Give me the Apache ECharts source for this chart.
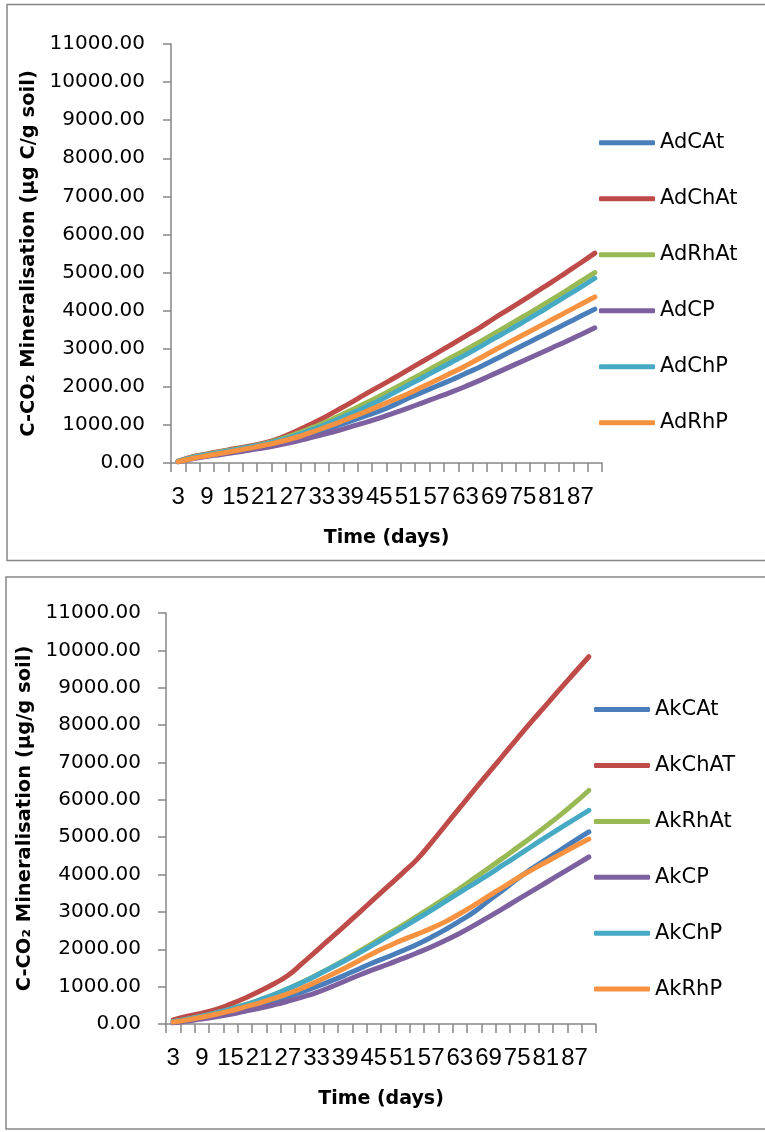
<!DOCTYPE html>
<html>
<head>
<meta charset="utf-8">
<script src="https://cdn.jsdelivr.net/npm/echarts@6/dist/echarts.min.js"></script>
<style>
html,body{margin:0;padding:0;background:#fff;}
#chart{width:765px;height:1132px;}
</style>
</head>
<body>
<div id="chart"></div>
<script>
// Categories (days)
const days = [3,6,9,12,15,18,21,24,27,30,33,36,39,42,45,48,51,54,57,60,63,66,69,72,75,78,81,84,87,90];

// Top panel series
const topNames = ['AdCAt','AdChAt','AdRhAt','AdCP','AdChP','AdRhP'];
const adCAt  = [40,130,200,260,320,380,450,530,620,730,850,970,1100,1230,1360,1520,1700,1860,2020,2180,2350,2520,2710,2900,3090,3280,3470,3660,3850,4040];
const adChAt = [45,165,240,310,380,445,530,640,800,980,1160,1370,1580,1800,2010,2225,2445,2665,2885,3105,3330,3555,3800,4035,4270,4510,4750,5000,5250,5510];
const adRhAt = [40,150,225,295,360,430,510,610,740,880,1030,1200,1380,1560,1750,1950,2150,2350,2560,2770,2970,3180,3400,3620,3840,4060,4290,4520,4760,5000];
const adCP   = [30,110,170,225,280,340,400,470,550,640,740,840,950,1060,1180,1310,1440,1580,1720,1860,2010,2170,2340,2510,2680,2850,3020,3190,3370,3550];
const adChP  = [40,140,215,285,350,420,495,590,700,830,970,1130,1290,1460,1640,1840,2040,2240,2440,2640,2840,3050,3270,3480,3700,3920,4150,4380,4610,4850];
const adRhP  = [35,120,190,255,320,390,465,550,650,770,900,1040,1190,1340,1500,1660,1820,2000,2180,2360,2550,2750,2960,3160,3360,3560,3760,3960,4160,4360];

// Bottom panel series
const bottomNames = ['AkCAt','AkChAT','AkRhAt','AkCP','AkChP','AkRhP'];
const akCAt  = [40,100,160,230,310,400,500,610,730,860,1000,1150,1310,1480,1650,1800,1960,2130,2320,2530,2760,3000,3300,3580,3880,4150,4400,4650,4900,5140];
const akChAT = [110,210,290,390,530,690,870,1070,1300,1620,1960,2300,2640,2990,3340,3690,4040,4400,4850,5320,5790,6260,6720,7180,7640,8090,8530,8970,9400,9830];
const akRhAt = [60,130,210,300,400,510,640,780,940,1120,1310,1510,1720,1950,2180,2410,2640,2880,3120,3370,3630,3900,4170,4440,4720,5000,5290,5590,5910,6250];
const akCP   = [30,80,130,190,260,340,420,510,610,720,840,990,1150,1310,1460,1600,1750,1900,2060,2240,2430,2640,2860,3090,3320,3550,3780,4010,4240,4470];
const akChP  = [60,130,210,300,400,510,640,780,940,1110,1300,1500,1700,1910,2130,2350,2580,2810,3040,3280,3520,3760,4000,4250,4500,4750,5000,5240,5480,5720];
const akRhP  = [50,110,180,260,350,460,560,680,810,960,1130,1310,1500,1700,1900,2080,2250,2400,2560,2740,2950,3180,3420,3660,3900,4120,4330,4540,4750,4950];

const colors = ['#4A7EBB','#BE4B48','#98B954','#7D60A0','#46AAC5','#F69240'];
const topData = [adCAt, adChAt, adRhAt, adCP, adChP, adRhP];
const bottomData = [akCAt, akChAT, akRhAt, akCP, akChP, akRhP];

const axisGray = '#868686';

function xAxisCfg(gridIndex){
  return {
    type:'category', gridIndex, data: days, boundaryGap:true,
    name:'Time (days)', nameLocation:'middle', nameGap:66,
    nameTextStyle:{fontFamily:'DejaVu Sans', fontWeight:'bold', fontSize:19, color:'#000'},
    axisLine:{lineStyle:{color:axisGray, width:1.5}},
    axisTick:{show:true, interval:0, length:9, lineStyle:{color:axisGray, width:1.5}},
    axisLabel:{interval:1, margin:22, fontFamily:'Liberation Sans', fontSize:24, color:'#000'},
    splitLine:{show:false}
  };
}
function yAxisCfg(gridIndex, name, gap, margin){
  return {
    type:'value', gridIndex, min:0, max:11000, interval:1000,
    name, nameLocation:'middle', nameGap:gap, nameRotate:90,
    nameTextStyle:{fontFamily:'DejaVu Sans', fontWeight:'bold', fontSize:19.5, color:'#000'},
    axisLine:{show:true, lineStyle:{color:axisGray, width:1.5}},
    axisTick:{show:true, length:8, lineStyle:{color:axisGray, width:1.5}},
    axisLabel:{margin, fontFamily:'DejaVu Sans', fontSize:20, color:'#000', formatter:v=>v.toFixed(2)},
    splitLine:{show:false}
  };
}

const series = [];
topNames.forEach((n,k)=>series.push({
  name:n, type:'line', xAxisIndex:0, yAxisIndex:0, data:topData[k], smooth:true, symbol:'none',
  lineStyle:{width:5, color:colors[k], cap:'round', join:'round'}, itemStyle:{color:colors[k]}
}));
bottomNames.forEach((n,k)=>series.push({
  name:n, type:'line', xAxisIndex:1, yAxisIndex:1, data:bottomData[k], smooth:true, symbol:'none',
  lineStyle:{width:5, color:colors[k], cap:'round', join:'round'}, itemStyle:{color:colors[k]}
}));

function legendCfg(names, left, top, gap){
  return {
    data:names, orient:'vertical', left, top, padding:0, itemGap:gap,
    itemWidth:56, itemHeight:5, icon:'roundRect',
    selectedMode:false,
    textStyle:{fontFamily:'DejaVu Sans', fontSize:21, lineHeight:22, color:'#000'}
  };
}

const chart = echarts.init(document.getElementById('chart'), null, {renderer:'canvas'});
chart.setOption({
  animation:false,
  backgroundColor:'#fff',
  color:colors,
  graphic:[
    {type:'rect', shape:{x:7, y:4.5, width:800, height:556}, style:{fill:'none', stroke:axisGray, lineWidth:1.5}, z:-10},
    {type:'rect', shape:{x:6, y:577, width:800, height:552}, style:{fill:'none', stroke:axisGray, lineWidth:1.5}, z:-10}
  ],
  grid:[
    {left:171, top:44, width:431, height:419},
    {left:166, top:613, width:430, height:411}
  ],
  xAxis:[xAxisCfg(0), xAxisCfg(1)],
  yAxis:[
    yAxisCfg(0, 'C-CO\u2082 Mineralisation (\u00b5g C/g soil)', 131, 26),
    yAxisCfg(1, 'C-CO\u2082 Mineralisation (\u00b5g/g soil)', 126, 25)
  ],
  legend:[
    legendCfg(topNames, 599, 131.7, 34),
    legendCfg(bottomNames, 594, 698.6, 33.9)
  ],
  series
});
</script>
</body>
</html>
